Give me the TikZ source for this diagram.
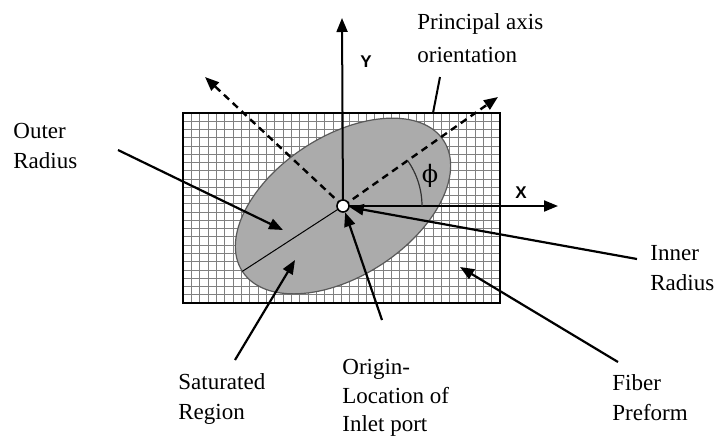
\documentclass[tikz,border=0pt]{standalone}
\usepackage{fontspec}
\setmainfont{Liberation Serif}
\newfontfamily\axisfont{Liberation Sans}
\newfontfamily\grkfont{DejaVu Serif}
\usetikzlibrary{arrows.meta,calc}

\begin{document}
\begin{tikzpicture}[x=0.5pt,y=-0.5pt,font=\fontsize{11.5}{15}\selectfont,>={Triangle[length=7pt,width=5.5pt]},
  lbl/.style={align=left,anchor=west,inner sep=0pt},
  ptr/.style={->,line width=1.1pt},
  pax/.style={->,line width=1.2pt,dash pattern=on 3.5pt off 2.5pt},
  axl/.style={font=\axisfont\bfseries\fontsize{8.5}{9}\selectfont,inner sep=0pt},
  mesh/.style={black!50,line width=0.45pt}]
\useasboundingbox (0,0) rectangle (719,435);

% ---------- fiber preform: the mesh ----------
\foreach \i in {0,...,38} \draw[mesh] ({183+\i*317/38},113) -- ({183+\i*317/38},303);
\foreach \j in {0,...,23} \draw[mesh] (183,{113+\j*190/23}) -- (500,{113+\j*190/23});
\draw[line width=0.7pt] (183,113) rectangle (500,303);
\coordinate (o) at (343,206);
\coordinate (paend) at (433,113);

% ---------- saturated region ----------
\draw[fill=black!33,draw=black!65,line width=0.6pt,rotate around={33:(o)}] (o) ellipse [x radius=120,y radius=70];
\draw[line width=0.5pt,rotate around={33:(o)}] (o) -- ++(-120,0);

% ---------- axes ----------
\coordinate (ytip) at (342,18);
\coordinate (xtip) at (558,206);
\coordinate (pa1) at (498,97);
\coordinate (pa2) at (205,77);
\draw[->,line width=1pt] (o) -- (ytip);
\draw[->,line width=1pt] (o) -- (xtip);
\draw[pax] (o) -- (pa1);
\draw[pax] (o) -- (pa2);
\draw[line width=0.6pt,black!80] (o) ++(79,0) arc[start angle=0,end angle=-35,radius=79];
\node[axl] (ylab) at (366,62) {Y};
\node[axl] (xlab) at (521,193) {X};
\node[inner sep=0pt,font=\grkfont\fontsize{12}{12}\selectfont] (phi) at (430,176) {ϕ};
\node[circle,draw,fill=white,line width=0.8pt,minimum size=6pt,inner sep=0pt] (org) at (o) {};

% ---------- labels ----------
\node[lbl,font=\fontsize{11.5}{16.5}\selectfont] (pao) at (417,38) {Principal axis\\orientation};
\node[lbl] (outr) at (13,146) {Outer\\Radius};
\node[lbl] (satr) at (178,399) {Saturated\\Region};
\node[lbl,font=\fontsize{11.5}{14.3}\selectfont] (inlet) at (342,398) {Origin-\\Location of\\Inlet port};
\node[lbl] (fibp) at (612,398) {Fiber\\Preform};
\node[lbl] (innr) at (650,268) {Inner\\Radius};

% ---------- pointers ----------
\coordinate (pa0) at (440,77);
\coordinate (or0) at (118,150);
\coordinate (or1) at (283,230);
\coordinate (sr0) at (235,360);
\coordinate (sr1) at (295,260);
\coordinate (il0) at (382,320);
\coordinate (ir0) at (637,259);
\coordinate (fp0) at (618,362);
\coordinate (fp1) at (460,267);
\draw[line width=1pt] (pa0) -- (paend);
\draw[ptr] (or0) -- (or1);
\draw[ptr] (sr0) -- (sr1);
\draw[ptr] (il0) -- (org);
\draw[ptr] (ir0) -- (org);
\draw[ptr] (fp0) -- (fp1);
\end{tikzpicture}
\end{document}
